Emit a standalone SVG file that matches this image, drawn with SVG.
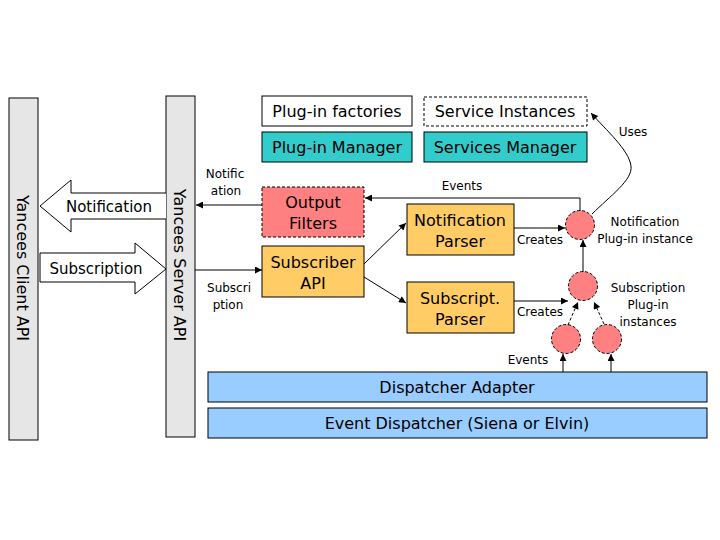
<svg xmlns="http://www.w3.org/2000/svg" width="720" height="540" viewBox="0 0 720 540">
<style>
text{font-family:"DejaVu Sans","Verdana",sans-serif;fill:#000;text-anchor:middle}
.b{font-size:16px}
.s{font-size:12px}
.bar{fill:#E6E6E6;stroke:#000;stroke-width:1}
.w{fill:#fff;stroke:#000;stroke-width:1}
.teal{fill:#33CCCC;stroke:#000;stroke-width:1}
.or{fill:#FFCC66;stroke:#000;stroke-width:1}
.red{fill:#FF8080;stroke:#000;stroke-width:1;stroke-dasharray:3,2}
.blue{fill:#99CCFF;stroke:#000;stroke-width:1}
.ln{fill:none;stroke:#000;stroke-width:1}
.dl{fill:none;stroke:#000;stroke-width:1;stroke-dasharray:3,2}
</style>
<defs>
<marker id="ah" viewBox="0 0 10 10" refX="10" refY="5" markerWidth="9" markerHeight="7" markerUnits="userSpaceOnUse" orient="auto">
<path d="M0,0 L10,5 L0,10 z" fill="#000"/>
</marker>
</defs>
<rect width="720" height="540" fill="#fff"/>

<g id="client-api">
<rect class="bar" x="9" y="98" width="29" height="342"/>
<text class="b" transform="translate(23,268) rotate(90)" dy="6">Yancees Client API</text>
</g>
<g id="server-api">
<rect class="bar" x="166" y="96" width="29" height="341"/>
<text class="b" transform="translate(180,265) rotate(90)" dy="6">Yancees Server API</text>
</g>
<g id="notification-arrow">
<path class="w" d="M166,193 L71,193 L71,180 L40,206 L71,232 L71,219 L166,219"/>
<text style="font-size:15px" x="109" y="212">Notification</text>
</g>
<g id="subscription-arrow">
<path class="w" d="M40,253 L135,253 L135,243 L166,269 L135,294 L135,282 L40,282 z"/>
<text style="font-size:15px" x="96" y="274">Subscription</text>
</g>

<g id="plugin-factories">
<rect class="w" x="262" y="96" width="150" height="30"/>
<text class="b" x="337" y="117">Plug-in factories</text>
</g>
<g id="plugin-manager">
<rect class="teal" x="262" y="132" width="150" height="30"/>
<text class="b" x="337" y="153">Plug-in Manager</text>
</g>
<g id="service-instances">
<rect class="w" style="stroke-dasharray:3,2" x="424" y="97" width="163" height="29"/>
<text class="b" x="505" y="117">Service Instances</text>
</g>
<g id="services-manager">
<rect class="teal" x="424" y="132" width="163" height="30"/>
<text class="b" x="505" y="153">Services Manager</text>
</g>
<g id="output-filters">
<rect class="red" x="262" y="187" width="102" height="50"/>
<text class="b" x="313" y="208">Output</text>
<text class="b" x="313" y="229">Filters</text>
</g>
<g id="subscriber-api">
<rect class="or" x="262" y="246" width="102" height="51"/>
<text class="b" x="313" y="268">Subscriber</text>
<text class="b" x="313" y="289">API</text>
</g>
<g id="notification-parser">
<rect class="or" x="407" y="204" width="107" height="51"/>
<text class="b" x="460" y="226">Notification</text>
<text class="b" x="460" y="247">Parser</text>
</g>
<g id="subscript-parser">
<rect class="or" x="407" y="282" width="107" height="51"/>
<text class="b" x="460" y="304">Subscript.</text>
<text class="b" x="460" y="325">Parser</text>
</g>
<g id="notification-instance">
<circle class="red" cx="580" cy="225" r="14.5"/>
</g>
<g id="subscription-instance">
<circle class="red" cx="583" cy="286" r="14.5"/>
</g>
<g id="sub-instance-1">
<circle class="red" cx="566" cy="339" r="14.5"/>
</g>
<g id="sub-instance-2">
<circle class="red" cx="607" cy="339" r="14.5"/>
</g>
<g id="dispatcher-adapter">
<rect class="blue" x="208" y="372" width="499" height="30"/>
<text class="b" x="457" y="393">Dispatcher Adapter</text>
</g>
<g id="event-dispatcher">
<rect class="blue" x="208" y="408" width="499" height="30"/>
<text class="b" x="457" y="429">Event Dispatcher (Siena or Elvin)</text>
</g>

<g id="connectors">
<path class="ln" d="M262,205 L196,205" marker-end="url(#ah)"/>
<path class="ln" d="M195,270 L262,270" marker-end="url(#ah)"/>
<path class="ln" d="M364,264 L406,223" marker-end="url(#ah)"/>
<path class="ln" d="M364,277 L406,303" marker-end="url(#ah)"/>
<path class="ln" d="M580,211 L580,198 L365,198" marker-end="url(#ah)"/>
<path class="ln" d="M514,228 L565,228" marker-end="url(#ah)"/>
<path class="ln" d="M514,301 L568,301" marker-end="url(#ah)"/>
<path class="ln" d="M583,272 L583,240" marker-end="url(#ah)"/>
<path class="dl" d="M568,325 L578,302" marker-end="url(#ah)"/>
<path class="dl" d="M604,324 L594,302" marker-end="url(#ah)"/>
<path class="ln" d="M563,372 L563,354" marker-end="url(#ah)"/>
<path class="ln" d="M611,372 L611,354" marker-end="url(#ah)"/>
<path class="ln" d="M592,214 C610,196 633,180 631,166 C629,150 606,130 591,113" marker-end="url(#ah)"/>
</g>
<g id="labels">
<text class="s" x="225" y="178">Notific</text>
<text class="s" x="226" y="195">ation</text>
<text class="s" x="229" y="292">Subscri</text>
<text class="s" x="228" y="309">ption</text>
<text class="s" x="462" y="190">Events</text>
<text class="s" x="540" y="244">Creates</text>
<text class="s" x="540" y="316">Creates</text>
<text class="s" x="633" y="136">Uses</text>
<text class="s" x="645" y="226">Notification</text>
<text class="s" x="645" y="243">Plug-in instance</text>
<text class="s" x="648" y="292">Subscription</text>
<text class="s" x="648" y="309">Plug-in</text>
<text class="s" x="648" y="326">instances</text>
<text class="s" x="528" y="364">Events</text>
</g>
</svg>
